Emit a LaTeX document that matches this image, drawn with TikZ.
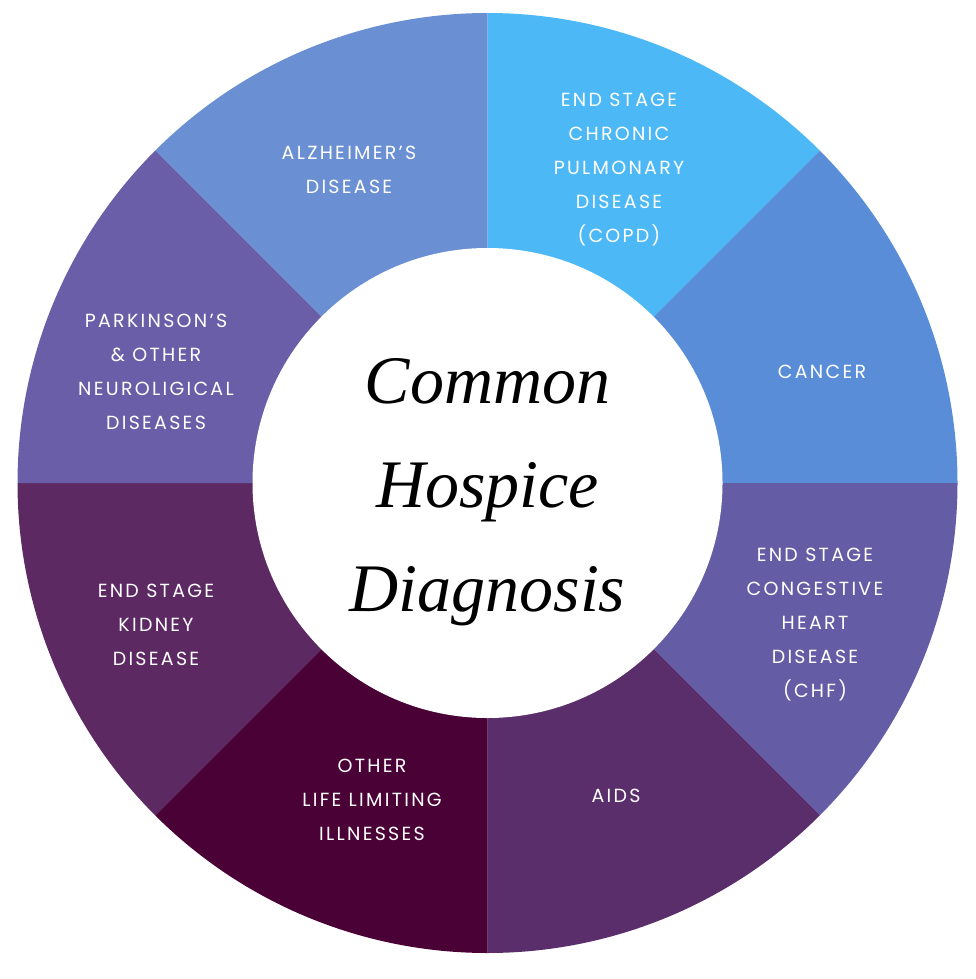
\documentclass[tikz,border=0pt]{standalone}
\usepackage{fontspec}
\setsansfont[LetterSpace=12]{Poppins}
\setmainfont{Liberation Serif}
\definecolor{cA}{HTML}{6A8FD2}
\definecolor{cB}{HTML}{4DB8F6}
\definecolor{cC}{HTML}{5A8DD8}
\definecolor{cD}{HTML}{645DA6}
\definecolor{cE}{HTML}{5A2D6B}
\definecolor{cF}{HTML}{4A0236}
\definecolor{cG}{HTML}{5C2963}
\definecolor{cH}{HTML}{6A5EA8}
\begin{document}
\begin{tikzpicture}[x=1pt,y=-1pt,
  lab/.style={text=white,font=\sffamily\fontsize{19}{34}\selectfont,align=center}]
\useasboundingbox (0,0) rectangle (976,979);
\fill[white] (0,0) rectangle (976,979);
\coordinate (c) at (487.5,483);
\foreach \s/\col in {90/cA,45/cB,0/cC,-45/cD,-90/cE,-135/cF,180/cG,135/cH}{
  \fill[\col] (c) -- ++(-\s:470) arc[start angle=-\s,delta angle=-45,radius=470] -- cycle;
}
\fill[white] (c) circle[radius=235];
\node[lab] (a) at (349,170) {ALZHEIMER’S\\DISEASE};
\node[lab] (b) at (619,170) {END STAGE\\CHRONIC\\PULMONARY\\DISEASE\\(COPD)};
\node[lab] (cc) at (822,372) {CANCER};
\node[lab] (d) at (815,625) {END STAGE\\CONGESTIVE\\HEART\\DISEASE\\(CHF)};
\node[lab] (e) at (616,796) {AIDS};
\node[lab] (f) at (372,800) {OTHER\\LIFE LIMITING\\ILLNESSES};
\node[lab] (g) at (156,625) {END STAGE\\KIDNEY\\DISEASE};
\node[lab] (h) at (156,372) {PARKINSON’S\\\& OTHER\\NEUROLIGICAL\\DISEASES};
\node[align=center,font=\itshape\fontsize{68}{104}\selectfont] (t) at (487.5,492) {Common\\Hospice\\Diagnosis};
\end{tikzpicture}
\end{document}
